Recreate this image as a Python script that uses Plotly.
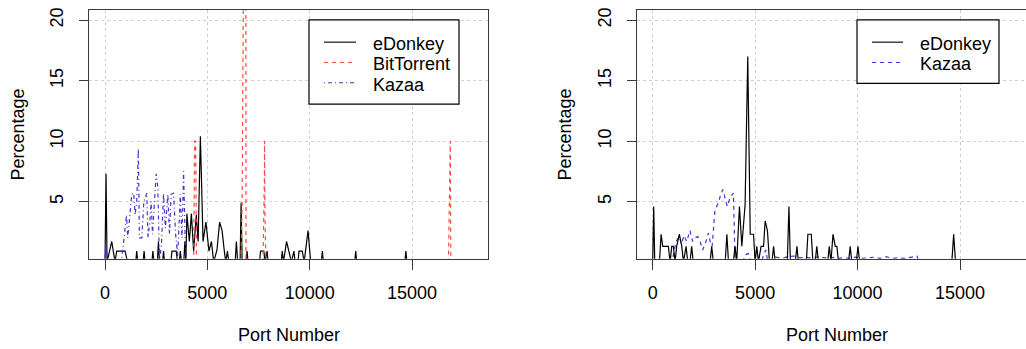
import plotly.graph_objects as go

W, H = 1026, 349

# ---------------- data ----------------
ed_left_port = [0, 50, 100, 330, 490, 570, 980, 1100, 1500, 1550,
                1600, 1860, 1910, 1960, 2290, 2340, 2390, 2560, 2610, 2660,
                2810, 2860, 2910, 3220, 3270, 3480, 3540, 3630, 3680, 3730,
                3850, 3900, 3950, 4000, 4120, 4220, 4330, 4460, 4550, 4660,
                4790, 4930, 5080, 5200, 5310, 5470, 5600, 5720, 5830, 5900,
                5980, 6050, 6360, 6420, 6480, 6600, 6650, 6700, 6890, 6940,
                6990, 7550, 7600, 7760, 7820, 7920, 7970, 8610, 8660, 8720,
                8870, 8990, 9110, 9230, 9290, 9430, 9480, 9640, 9730, 9920,
                10050, 10570, 10620, 10670, 12200, 12250, 12300, 14650, 14700, 14750, 15000]
ed_left_pct = [0, 7.3, 0, 1.7, 0, 0.9, 0.9, 0, 0, 0.9,
               0, 0, 0.9, 0, 0, 0.9, 0, 0, 1.7, 0,
               0, 0.9, 0, 0, 0.9, 0.9, 0, 0, 0.9, 0,
               0, 1.7, 0, 4.0, 1.7, 4.0, 0.9, 3.9, 1.7, 10.4,
               1.7, 3.3, 0.9, 1.7, 0, 1.0, 3.3, 2.6, 0.9, 0,
               0.9, 0, 0, 1.7, 0, 0, 4.9, 0, 0, 0.9,
               0, 0, 0.9, 0.9, 0, 0.9, 0, 0, 0.9, 0,
               1.7, 0.9, 0, 0.9, 0, 0, 0.9, 0.9, 0, 2.6,
               0, 0, 0.9, 0, 0, 0.9, 0, 0, 0.9, 0, 0]

bt_left_port = [0, 4330, 4380, 4430, 4470,
                6640, 6700, 6740, 6770, 6880, 6890,
                7720, 7760, 7770, 7790, 7795, 7800, 7810, 7830, 7860,
                16780, 16830, 16850, 16870, 16880, 16890, 16900, 18000]
bt_left_pct = [0, 0, 10, 10, 0,
               0, 4.8, 19, 25, 25, 0,
               0, 2.6, 5.0, 7.3, 10, 7.3, 5.2, 2.6, 0,
               0, 5, 7.7, 10, 7.5, 2.5, 0, 0]

kz_left_port = [0, 50, 100, 800, 900, 980, 1050, 1110, 1200, 1310,
                1400, 1470, 1550, 1630, 1680, 1800, 1900, 2040, 2100, 2200,
                2250, 2320, 2400, 2500, 2580, 2660, 2760, 2860, 2950, 3070,
                3150, 3230, 3350, 3450, 3550, 3680, 3760, 3840, 3920, 4000, 18000]
kz_left_pct = [0, 1.5, 0, 0, 1.5, 2.6, 3.9, 2.0, 3.9, 5.6,
               5.7, 3.9, 5.0, 9.4, 2.0, 2.0, 5.0, 5.7, 2.0, 3.5,
               5.0, 2.3, 4.5, 7.3, 6.2, 0, 1.5, 5.7, 2.8, 5.6,
               2.3, 5.6, 5.7, 2.3, 0.5, 5.6, 2.0, 7.5, 1.5, 0, 0]

ed_right_port = [0, 50, 100, 330, 410, 490, 765, 850, 930, 1010,
                 1090, 1170, 1300, 1420, 1500, 1630, 1710, 1820, 1900, 1980,
                 2800, 2880, 2960, 3540, 3620, 3700, 3940, 4020, 4100, 4235,
                 4350, 4510, 4640, 4760, 4920, 5000, 5080, 5160, 5290, 5410,
                 5490, 5600, 5700, 5820, 5900, 5980, 6570, 6650, 6720, 6960,
                 7040, 7110, 7500, 7575, 7740, 7820, 7930, 8010, 8090, 8540,
                 8620, 8700, 8800, 8910, 8990, 9070, 9560, 9640, 9720, 9940,
                 10020, 10100, 14600, 14690, 14780, 18000]
ed_right_pct = [0, 4.6, 0, 0, 2.3, 1.3, 1.3, 0, 1.3, 1.3,
                0, 1.3, 2.3, 1.3, 0, 1.3, 0, 0, 1.3, 0,
                0, 1.3, 0, 0, 2.3, 0, 0, 1.3, 0, 4.6,
                1.3, 4.75, 17.0, 2.3, 2.3, 0, 1.3, 0, 1.3, 1.3,
                3.4, 2.6, 0, 0, 1.3, 0, 0, 4.6, 0, 0,
                1.3, 0, 0, 2.3, 2.3, 0, 0, 1.3, 0, 0,
                1.3, 0, 2.3, 1.3, 1.3, 0, 0, 1.3, 0, 0,
                1.3, 0, 0, 2.3, 0, 0]

kz_right_port = [0, 900, 1000, 1140, 1300, 1400, 1530, 1660, 1820, 1950,
                 2070, 2200, 2310, 2440, 2600, 2720, 2830, 2900, 3040, 3210,
                 3290, 3420, 3530, 3640, 3770, 3940, 4020, 4400, 4510, 4670,
                 4830, 5300, 5400, 5520, 5620, 6000, 6300, 6600, 6900, 7200,
                 7500, 7800, 8100, 8400, 8700, 9000, 9300, 9600, 9900, 10200,
                 10500, 10800, 11100, 11400, 11700, 12000, 12300, 12600, 12900, 13000, 18000]
kz_right_pct = [0, 0, 0.5, 1.7, 2.1, 1.5, 2.2, 1.7, 2.6, 1.7,
                2.0, 2.1, 1.7, 1.0, 1.7, 2.4, 1.5, 1.3, 4.3, 4.9,
                5.4, 6.0, 5.3, 4.6, 5.3, 5.7, 0, 0, 0.6, 0.7,
                0, 0, 0.5, 1.0, 0, 0.4, 0.3, 0.45, 0.5, 0.35,
                0.4, 0.3, 0.45, 0.35, 0.4, 0.3, 0.35, 0.3, 0.4, 0.3,
                0.35, 0.4, 0.3, 0.45, 0.3, 0.35, 0.3, 0.4, 0.5, 0, 0]

x_ticks = [0, 5000, 10000, 15000]
y_ticks = [5, 10, 15, 20]
legend_left_names = ["eDonkey", "BitTorrent", "Kazaa"]
legend_right_names = ["eDonkey", "Kazaa"]
x_title = "Port Number"
y_title = "Percentage"

# ---------------- styles ----------------
FONT = "Liberation Sans, Arial, sans-serif"
BLACK = "#000000"
RED = "#FF4A3D"
BLUE = "#4433CC"
BOXC = "#3a3a3a"
DASH = "4px,4px"
DOTDASH = "1px,3px,4px,3px"


def px(x):
    return x / W


def py(y):
    return 1 - y / H


fig = go.Figure()

series = [
    (ed_left_port, ed_left_pct, BLACK, "solid", "x", "y"),
    (bt_left_port, bt_left_pct, RED, DASH, "x", "y"),
    (kz_left_port, kz_left_pct, BLUE, DOTDASH, "x", "y"),
    (kz_right_port, kz_right_pct, BLUE, DASH, "x2", "y2"),
    (ed_right_port, ed_right_pct, BLACK, "solid", "x2", "y2"),
]
for xs, ys, col, dash, xa, ya in series:
    fig.add_trace(go.Scatter(x=xs, y=ys, mode="lines",
                             line=dict(color=col, width=1.2, dash=dash),
                             xaxis=xa, yaxis=ya, showlegend=False,
                             hoverinfo="skip"))

ydom = [py(258), py(7.3)]
common_x = dict(tickvals=x_ticks, ticktext=[str(v) for v in x_ticks],
                ticks="outside", ticklen=10, tickcolor=BOXC, tickwidth=1,
                showline=True, linecolor=BOXC, linewidth=1, mirror=True,
                showgrid=True, gridcolor="#d0d0d0", griddash="dot", gridwidth=1,
                zeroline=False, tickfont=dict(family=FONT, size=18, color=BLACK),
                ticklabelstandoff=8)
common_y = dict(tickvals=y_ticks, ticktext=[str(v) for v in y_ticks],
                range=[0.27, 20.82], ticks="outside", ticklen=9, tickcolor=BOXC,
                tickwidth=1, showline=True, linecolor=BOXC, linewidth=1,
                showgrid=True, gridcolor="#d0d0d0", griddash="dot", gridwidth=1,
                zeroline=False, tickangle=-90,
                tickfont=dict(family=FONT, size=18, color=BLACK),
                ticklabelstandoff=9)

fig.update_layout(
    width=W, height=H,
    margin=dict(l=0, r=0, t=0, b=0),
    paper_bgcolor="white", plot_bgcolor="white",
    xaxis=dict(domain=[px(89), px(488)], range=[-782, 18713], anchor="y", **common_x),
    yaxis=dict(domain=ydom, anchor="x", mirror=True, **common_y),
    xaxis2=dict(domain=[px(636.7), 1.0], range=[-781, 18221], anchor="y2", **common_x),
    yaxis2=dict(domain=ydom, anchor="x2", mirror=False, **common_y),
)

annotations = []
shapes = []
# axis titles
for cx, cy_x, cx_y in [(288.5, 335, 18), (836.5, 335, 565)]:
    annotations.append(dict(text=x_title, x=px(cx), y=py(cy_x), xref="paper", yref="paper",
                            showarrow=False, xanchor="center", yanchor="middle",
                            font=dict(family=FONT, size=18, color=BLACK)))
    annotations.append(dict(text=y_title, x=px(cx_y), y=py(132.6), xref="paper", yref="paper",
                            showarrow=False, xanchor="center", yanchor="middle", textangle=-90,
                            font=dict(family=FONT, size=18, color=BLACK)))

# legends (drawn in paper space)
legend_specs = [
    (309, 459, 17, 102, 324, 356, 371, [39.5, 60, 80.5], legend_left_names,
     [(BLACK, "solid"), (RED, DASH), (BLUE, DOTDASH)]),
    (857, 999, 17, 81, 872, 903, 918, [39.5, 60], legend_right_names,
     [(BLACK, "solid"), (BLUE, DASH)]),
]
for x0, x1, y0, y1, lx0, lx1, tx, rows, names, styles in legend_specs:
    shapes.append(dict(type="rect", xref="paper", yref="paper", x0=px(x0), x1=px(x1),
                       y0=py(y0), y1=py(y1), line=dict(color=BLACK, width=1.2),
                       fillcolor="white", layer="above"))
    for ry, name, (col, dash) in zip(rows, names, styles):
        shapes.append(dict(type="line", xref="paper", yref="paper", x0=px(lx0), x1=px(lx1),
                           y0=py(ry), y1=py(ry), line=dict(color=col, width=1.1, dash=dash),
                           layer="above"))
        annotations.append(dict(text=name, x=px(tx), y=py(ry + 2), xref="paper", yref="paper",
                                showarrow=False, xanchor="left", yanchor="middle",
                                font=dict(family=FONT, size=18, color=BLACK)))

fig.update_layout(annotations=annotations, shapes=shapes)
fig.write_html("out.html")
